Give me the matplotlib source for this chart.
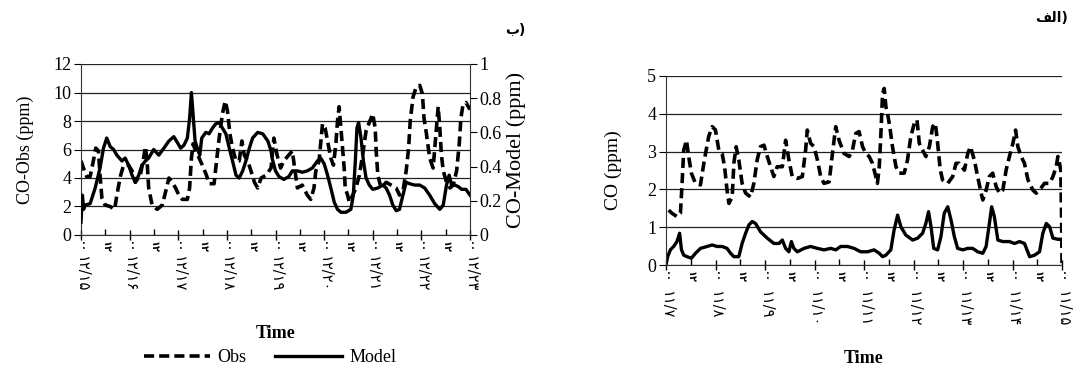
import matplotlib.pyplot as plt
from matplotlib.lines import Line2D

plt.rcParams['font.family'] = ['Liberation Serif', 'DejaVu Sans']

# ---------------- panel "b" (left): hours from start of period ----------------
obs_b_t = [0, 1.2, 2.8, 4.5, 6.1, 7.3, 8.6, 9.4, 10.3, 11.9,
           14.4, 16.6, 17.7, 19.4, 21.0, 23.5, 25.2, 26.8, 29.3, 30.9,
           31.8, 32.6, 33.4, 35.1, 37.6, 40.1, 41.7, 43.4, 45.0, 46.7,
           48.3, 50.0, 52.5, 53.6, 54.5, 55.3, 56.6, 58.3, 59.9, 61.9,
           63.2, 65.7, 66.9, 68.2, 69.8, 71.2, 72.3, 73.5, 74.8, 76.5,
           78.1, 79.4, 80.6, 82.3, 83.9, 85.6, 87.2, 88.9, 91.4, 93.8,
           95.2, 96.8, 98.5, 100.1, 104.3, 106.8, 109.2, 111.7, 113.4, 115.0,
           115.9, 117.5, 118.3, 119.2, 120.5, 121.7, 123.3, 124.6, 125.8, 126.6,
           127.4, 128.3, 129.1, 129.9, 130.4, 131.6, 132.4, 134.1, 135.7, 137.4,
           139.0, 140.7, 142.3, 144.0, 145.2, 145.7, 146.5, 148.1, 150.6, 153.1,
           155.6, 157.2, 158.9, 160.5, 161.7, 162.5, 163.9, 165.5, 167.2, 168.5,
           169.3, 170.5, 172.1, 173.8, 174.6, 175.4, 176.3, 177.1, 177.9, 178.8,
           180.4, 182.1, 183.7, 185.4, 186.7, 187.5, 188.5, 190, 192]
obs_b_v = [5.2, 4.7, 4.1, 4.1, 5.2, 6.1, 5.9, 4.2, 2.6, 2.1,
           2.0, 1.8, 2.8, 4.1, 4.9, 4.9, 4.5, 3.7, 4.2, 5.4,
           6.2, 5.2, 3.3, 2.1, 1.8, 2.1, 3.0, 4.0, 3.7, 3.3,
           2.8, 2.5, 2.5, 3.3, 5.4, 6.4, 5.9, 5.4, 4.9, 4.2,
           3.6, 3.6, 5.2, 6.8, 8.5, 9.4, 8.7, 7.1, 6.1, 5.2,
           5.2, 6.6, 5.6, 5.2, 4.5, 3.7, 3.3, 4.0, 4.2, 4.7,
           6.8, 5.6, 4.7, 5.2, 5.9, 3.3, 3.5, 2.8, 2.5, 3.3,
           4.5, 5.2, 6.4, 7.8, 7.5, 6.6, 5.4, 4.9, 6.4, 8.0,
           9.0, 7.5, 6.1, 4.7, 3.3, 2.8, 2.3, 2.8, 3.3, 4.2,
           5.6, 7.3, 7.9, 8.5, 7.5, 5.9, 4.2, 3.3, 3.7, 3.5,
           3.3, 2.8, 3.1, 4.5, 6.1, 8.0, 9.7, 10.4, 10.5, 9.9,
           8.2, 7.1, 5.4, 4.7, 6.1, 7.5, 9.0, 7.5, 5.6, 4.5,
           3.7, 3.3, 3.5, 4.5, 6.4, 8.2, 9.1, 9.3, 8.8]

mod_b_t = [0, 0.7, 1.3, 2.0, 4.5, 7.0, 9.4, 11.1, 12.7, 14.4,
           16.1, 17.7, 20.2, 21.8, 23.5, 25.2, 26.8, 28.5, 30.1, 31.8,
           33.4, 35.9, 38.4, 40.9, 43.4, 45.8, 47.5, 49.2, 50.8, 52.5,
           53.6, 54.5, 55.3, 56.3, 57.4, 58.6, 59.6, 61.6, 63.2, 64.9,
           66.5, 68.2, 69.8, 71.5, 73.2, 74.8, 76.5, 78.1, 79.8, 81.4,
           83.1, 84.7, 87.2, 89.7, 92.2, 93.8,
           94.3, 96, 97.7, 100.1, 102.6, 104.3, 106.8, 109.2, 111.7, 114.2,
           116.7, 118.3, 120.0, 121.7, 123.3, 125.0, 126.6, 128.3, 130.8, 133.2,
           134.4, 135.4, 136.2, 137.0, 138.2, 139.4, 140.7, 142.3, 144.0, 146.5,
           149.0, 150.6, 152.3, 153.9, 155.6, 157.2, 158.9, 160.5, 162.2, 164.7,
           167.2, 169.6, 172.1, 174.6, 177.1, 178.8, 180.4, 181.7, 182.9, 184.5,
           186.2, 187.9, 190, 192]
mod_b_v = [0.075, 0.233, 0.15, 0.175, 0.183, 0.275, 0.392, 0.508, 0.567, 0.517,
           0.5, 0.467, 0.433, 0.45, 0.408, 0.35, 0.308, 0.35, 0.408, 0.433,
           0.45, 0.5, 0.467, 0.508, 0.55, 0.575, 0.542, 0.508, 0.525, 0.567,
           0.683, 0.833, 0.708, 0.55, 0.508, 0.467, 0.567, 0.6, 0.592, 0.625,
           0.65, 0.658, 0.625, 0.592, 0.508, 0.433, 0.35, 0.333, 0.375, 0.433,
           0.508, 0.567, 0.6, 0.592, 0.55, 0.492,
           0.45, 0.375, 0.342, 0.325, 0.342, 0.375, 0.375, 0.367, 0.375, 0.392,
           0.433, 0.45, 0.417, 0.35, 0.275, 0.192, 0.15, 0.133, 0.133, 0.15,
           0.233, 0.433, 0.625, 0.658, 0.567, 0.433, 0.333, 0.292, 0.267, 0.275,
           0.292, 0.275, 0.233, 0.175, 0.142, 0.15, 0.233, 0.308, 0.3, 0.292,
           0.292, 0.275, 0.233, 0.183, 0.15, 0.175, 0.292, 0.35, 0.292, 0.292,
           0.283, 0.267, 0.267, 0.233]

dates_b = ['۱۲/۱۵', '۱۲/۱۶', '۱۲/۱۷', '۱۲/۱۸', '۱۲/۱۹',
           '۱۲/۲۰', '۱۲/۲۱', '۱۲/۲۲', '۱۲/۲۳']

# ---------------- panel "alef" (right) ----------------
obs_a_t = [1.3, 2.9, 5.3, 7.0, 7.8, 8.6, 9.9, 11.0, 12.3, 14.3,
           16.7, 18.6, 20.7, 22.4, 24.0, 25.6, 27.2, 28.4, 29.6, 30.5,
           32.1, 32.9, 34.0, 35.3, 36.9, 38.6, 41.0, 42.6, 44.2, 45.8,
           47.5, 49.1, 50.7, 52.3, 53.9, 56.4, 58.0, 59.6, 61.2, 63.7,
           66.1, 67.7, 68.5, 70.1, 71.8, 73.4, 75.0, 76.6, 79.1, 80.7,
           82.3, 83.9, 86.3, 88.8, 90.4, 92.0, 93.6, 95.3, 96.9, 98.5,
           100.1, 101.7, 102.5, 103.4, 104.2, 105.0, 105.8, 106.6, 107.4, 108.5,
           109.8, 111.5, 113.1, 115.5, 117.1, 118.7, 120.4, 121.7, 122.8, 124.4,
           126.0, 127.7, 129.3, 130.6, 131.7, 133.0, 134.1, 136.6, 139.0, 140.6,
           142.2, 144.7, 146.3, 147.6, 149.5, 151.1, 152.8, 153.6, 155.2, 156.8,
           158.4, 160.1, 161.7, 163.3, 164.9, 166.5, 168.2, 169.5, 170.6, 172.2,
           173.8, 175.5, 177.9, 179.5, 181.1, 183.5, 186.0, 187.6, 189.2, 190.0,
           190.8, 191.4, 191.8, 192]
obs_a_v = [1.45, 1.37, 1.28, 1.37, 2.16, 3.04, 3.3, 2.87, 2.43, 2.16,
           2.12, 2.78, 3.4, 3.66, 3.57, 3.04, 2.95, 2.6, 1.98, 1.63,
           1.8, 2.69, 3.13, 2.78, 2.16, 1.9, 1.8, 2.16, 2.78, 3.13,
           3.17, 2.87, 2.6, 2.34, 2.6, 2.6, 3.3, 2.78, 2.34, 2.29,
           2.34, 3.04, 3.57, 3.22, 3.13, 2.78, 2.34, 2.16, 2.2, 2.95,
           3.66, 3.3, 2.95, 2.87, 3.04, 3.48, 3.53, 3.13, 2.95, 2.87,
           2.69, 2.34, 2.16, 2.6, 3.48, 4.54, 4.67, 4.19, 4.01, 3.66,
           3.13, 2.6, 2.43, 2.43, 2.78, 3.4, 3.75, 3.84, 3.22, 3.04,
           2.87, 3.13, 3.66, 3.75, 3.22, 2.51, 2.25, 2.16, 2.34, 2.69,
           2.69, 2.51, 2.95, 3.13, 2.78, 2.34, 1.9, 1.72, 1.98, 2.34,
           2.43, 2.07, 1.9, 1.98, 2.51, 2.87, 3.22, 3.57, 3.13, 2.87,
           2.69, 2.25, 1.98, 1.9, 1.98, 2.16, 2.16, 2.34, 2.6, 2.87,
           2.69, 2.51, 1.28, 0.05]

mod_a_t = [0, 0.8, 2.1, 3.7, 5.3, 6.6, 7.5, 8.6, 10.2, 12.3,
           14.3, 16.7, 19.9, 22.4, 24.8, 27.2, 29.6, 31.3, 32.9, 35.3,
           36.9, 38.6, 40.2, 41.8, 43.4, 45.8, 49.1, 52.3, 54.8, 56.4,
           58.0, 59.6, 60.8, 62.0, 63.7, 66.9, 70.1, 73.4, 76.6, 79.9,
           82.3, 84.7, 88.0, 91.2, 94.4, 97.7, 100.9, 103.4, 105.0, 106.6,
           109.0, 110.6, 112.3, 113.9, 116.3, 119.6, 122.0, 124.4, 126.0, 127.3,
           128.5, 129.8, 131.7, 133.3, 134.9, 136.6, 138.2, 139.8, 141.4, 143.9,
           146.3, 148.7, 151.1, 153.6, 155.2, 156.8, 157.9, 159.2, 160.9, 163.3,
           166.5, 169.0, 171.4, 173.8, 176.3, 178.7, 181.1, 182.7, 184.4, 186.0,
           187.6, 190.0, 192]
mod_a_v = [0, 0.22, 0.4, 0.49, 0.62, 0.84, 0.4, 0.26, 0.22, 0.18,
           0.31, 0.44, 0.49, 0.53, 0.49, 0.49, 0.44, 0.31, 0.22, 0.22,
           0.57, 0.84, 1.06, 1.15, 1.1, 0.88, 0.71, 0.57, 0.57, 0.66,
           0.44, 0.35, 0.62, 0.44, 0.35, 0.44, 0.49, 0.44, 0.4, 0.44,
           0.4, 0.49, 0.49, 0.44, 0.35, 0.35, 0.4, 0.31, 0.22, 0.26,
           0.4, 0.93, 1.32, 1.01, 0.79, 0.66, 0.71, 0.84, 1.1, 1.41,
           1.01, 0.44, 0.4, 0.75, 1.37, 1.54, 1.19, 0.75, 0.44, 0.4,
           0.44, 0.44, 0.35, 0.31, 0.49, 1.1, 1.54, 1.28, 0.66, 0.62,
           0.62, 0.57, 0.62, 0.57, 0.22, 0.26, 0.35, 0.84, 1.1, 1.01,
           0.71, 0.68, 0.68]

dates_a = ['۱۱/۷', '۱۱/۸', '۱۱/۹', '۱۱/۱۰', '۱۱/۱۱',
           '۱۱/۱۲', '۱۱/۱۳', '۱۱/۱۴', '۱۱/۱۵']

hour_labels = ['۰۰', '۱۲']

W, H = 1073, 374
fig = plt.figure(figsize=(W / 100, H / 100), dpi=100)


def px_axes(x0, x1, ytop, ybot):
    return fig.add_axes([x0 / W, 1 - ybot / H, (x1 - x0) / W, (ybot - ytop) / H])


def time_axis(ax, dates, date_off):
    ax.set_xlim(0, 192)
    major = [24 * i for i in range(len(dates))]
    minor = [24 * i + 12 for i in range(len(dates) - 1)]
    ax.set_xticks(major, [hour_labels[0]] * len(major))
    ax.set_xticks(minor, [hour_labels[1]] * len(minor), minor=True)
    ax.tick_params(axis='x', which='major', direction='inout', length=7,
                   width=1, labelsize=7, labelrotation=270, pad=1)
    ax.tick_params(axis='x', which='minor', direction='in', length=4,
                   width=1, labelsize=7, labelrotation=270, pad=4)
    for lbl in ax.get_xticklabels(which='both'):
        lbl.set_family('DejaVu Sans')
        lbl.set_fontweight('bold')
    for d, txt in zip(major, dates):
        ax.annotate(txt, xy=(d, 0), xycoords=('data', 'axes fraction'),
                    xytext=(0, -date_off), textcoords='offset points',
                    rotation=270, ha='center', va='top', fontsize=10.5,
                    family='DejaVu Sans')


def style(ax):
    for s in ['top', 'right']:
        ax.spines[s].set_visible(False)
    for s in ['left', 'bottom']:
        ax.spines[s].set_color('#333333')
    ax.yaxis.grid(True, color='#222222', lw=0.9)
    ax.set_axisbelow(True)
    ax.tick_params(axis='y', direction='out', length=5, labelsize=13, pad=2)


# ---- left chart (b) ----
axb = px_axes(81, 470, 64, 235)
axb.plot(obs_b_t, obs_b_v, color='black', ls='--', lw=2.6, dashes=(2.8, 1.4))
axb.set_ylim(0, 12)
axb.set_yticks(range(0, 13, 2))
style(axb)
time_axis(axb, dates_b, 15)
axb.set_ylabel('CO-Obs (ppm)', fontsize=13, labelpad=14)
axb.set_xlabel('Time', fontsize=13, fontweight='bold', labelpad=52)

axm = axb.twinx()
axm.plot(mod_b_t, mod_b_v, color='black', lw=2.4)
axm.set_ylim(0, 1)
axm.set_yticks([0, 0.2, 0.4, 0.6, 0.8, 1])
axm.set_yticklabels(['0', '0.2', '0.4', '0.6', '0.8', '1'])
for s in ['top', 'left', 'bottom']:
    axm.spines[s].set_visible(False)
axm.spines['right'].set_color('#333333')
axm.tick_params(axis='y', direction='out', length=5, labelsize=13, pad=2)
axm.set_ylabel('CO-Model (ppm)', fontsize=16, labelpad=3)

# ---- right chart (alef) ----
axa = px_axes(666, 1062, 76, 265)
axa.plot(obs_a_t, obs_a_v, color='black', ls='--', lw=2.6, dashes=(2.8, 1.4))
axa.plot(mod_a_t, mod_a_v, color='black', lw=2.4)
axa.set_ylim(0, 5)
axa.set_yticks(range(0, 6))
style(axa)
time_axis(axa, dates_a, 19)
axa.set_ylabel('CO (ppm)', fontsize=14, labelpad=18)
axa.set_xlabel('Time', fontsize=13, fontweight='bold', labelpad=48)

# panel tags
fig.text(505 / W, 1 - 30 / H, '\uFE8F)', fontsize=10, fontweight='bold',
         family='DejaVu Sans', ha='left', va='center')
fig.text(1035 / W, 1 - 18 / H, '\uFED2\uFEDF\uFE8D)', fontsize=10,
         fontweight='bold', family='DejaVu Sans', ha='left', va='center')

handles = [Line2D([], [], color='black', ls='--', lw=2.6, dashes=(2.8, 1.4)),
           Line2D([], [], color='black', lw=2.4)]
fig.legend(handles, ['Obs', 'Model'], loc='center', ncol=2, frameon=False,
           bbox_to_anchor=(270 / W, 1 - 358 / H), fontsize=13,
           handlelength=3.7, handletextpad=0.4, columnspacing=1.6)

fig.savefig('out.png', dpi=100)
